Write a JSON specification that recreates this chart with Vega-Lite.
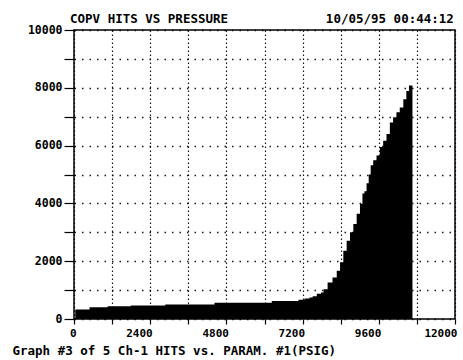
{
  "$schema": "https://vega.github.io/schema/vega-lite/v6.json",
  "width": 381,
  "height": 289,
  "autosize": {"type": "none"},
  "padding": {"left": 74, "top": 30, "right": 8, "bottom": 41},
  "background": "white",
  "title": {
    "text": "COPV HITS VS PRESSURE\u00a0\u00a0\u00a0\u00a0\u00a0\u00a0\u00a0\u00a0\u00a0\u00a0\u00a0\u00a0\u00a010/05/95 00:44:12",
    "anchor": "start",
    "frame": "group",
    "font": "DejaVu Sans Mono",
    "fontSize": 12.5,
    "fontWeight": "bold",
    "color": "black",
    "baseline": "alphabetic",
    "offset": 1,
    "dx": -4,
    "dy": 12
  },
  "config": {
    "view": {"stroke": "black", "strokeWidth": 1.5}
  },
  "data": {
    "values": [
      {"pressure": 40, "hits": 330},
      {"pressure": 940, "hits": 410},
      {"pressure": 1180, "hits": 445},
      {"pressure": 2400, "hits": 470},
      {"pressure": 3350, "hits": 505},
      {"pressure": 5500, "hits": 565},
      {"pressure": 6960, "hits": 620},
      {"pressure": 7180, "hits": 665},
      {"pressure": 7340, "hits": 710},
      {"pressure": 7490, "hits": 740},
      {"pressure": 7545, "hits": 790},
      {"pressure": 7750, "hits": 870},
      {"pressure": 7810, "hits": 915},
      {"pressure": 7910, "hits": 1030},
      {"pressure": 8065, "hits": 1265},
      {"pressure": 8220, "hits": 1440},
      {"pressure": 8330, "hits": 1670},
      {"pressure": 8430, "hits": 1960},
      {"pressure": 8535, "hits": 2360},
      {"pressure": 8640, "hits": 2710},
      {"pressure": 8745, "hits": 3000},
      {"pressure": 8850, "hits": 3290},
      {"pressure": 8955, "hits": 3640},
      {"pressure": 9058, "hits": 3990},
      {"pressure": 9111, "hits": 4340},
      {"pressure": 9183, "hits": 4420},
      {"pressure": 9246, "hits": 4700},
      {"pressure": 9318, "hits": 5000},
      {"pressure": 9371, "hits": 5320},
      {"pressure": 9475, "hits": 5490},
      {"pressure": 9580, "hits": 5660},
      {"pressure": 9685, "hits": 5950},
      {"pressure": 9790, "hits": 6170},
      {"pressure": 9895, "hits": 6400},
      {"pressure": 10000, "hits": 6800},
      {"pressure": 10100, "hits": 6980},
      {"pressure": 10210, "hits": 7150},
      {"pressure": 10310, "hits": 7320},
      {"pressure": 10435, "hits": 7600},
      {"pressure": 10500, "hits": 7890},
      {"pressure": 10600, "hits": 8080},
      {"pressure": 10660, "hits": 8080}
    ]
  },
  "mark": {"type": "area", "interpolate": "step", "color": "black", "opacity": 1},
  "encoding": {
    "x": {
      "field": "pressure",
      "type": "quantitative",
      "scale": {"domain": [0, 12000], "nice": false, "zero": false},
      "axis": {
        "values": [0, 1200, 2400, 3600, 4800, 6000, 7200, 8400, 9600, 10800, 12000],
        "format": "d",
        "labelExpr": "datum.value % 2400 == 0 ? datum.label : ''",
        "grid": true,
        "gridColor": "black",
        "gridDash": [1.5, 2.5],
        "gridWidth": 1.2,
        "gridOpacity": 0.9,
        "domain": false,
        "ticks": true,
        "tickColor": "black",
        "tickSize": 5,
        "tickWidth": 1.2,
        "labelFont": "DejaVu Sans Mono",
        "labelFontSize": 11,
        "labelFontWeight": "bold",
        "labelColor": "black",
        "labelPadding": 3,
        "labelAlign": "right",
        "labelOffset": 2,
        "labelOverlap": false,
        "labelFlush": false,
        "title": "Graph #3 of 5 Ch-1 HITS vs. PARAM. #1(PSIG)",
        "titleAnchor": "start",
        "titleAlign": "left",
        "titleBaseline": "alphabetic",
        "titleX": -62,
        "titleY": 35,
        "titleFont": "DejaVu Sans Mono",
        "titleFontSize": 12.5,
        "titleFontWeight": "bold",
        "titleColor": "black"
      }
    },
    "y": {
      "field": "hits",
      "type": "quantitative",
      "scale": {"domain": [0, 10000], "nice": false},
      "axis": {
        "values": [0, 1000, 2000, 3000, 4000, 5000, 6000, 7000, 8000, 9000, 10000],
        "format": "d",
        "labelExpr": "datum.value % 2000 == 0 ? datum.label : ''",
        "grid": true,
        "gridColor": "black",
        "gridDash": [1.5, 6],
        "gridWidth": 1.3,
        "gridOpacity": 0.9,
        "domain": false,
        "ticks": true,
        "tickColor": "black",
        "tickSize": 10,
        "tickWidth": 1.2,
        "labelFont": "DejaVu Sans Mono",
        "labelFontSize": 11.5,
        "labelFontWeight": "bold",
        "labelColor": "black",
        "labelPadding": 2,
        "labelOverlap": false,
        "labelFlush": false,
        "title": null
      }
    }
  }
}
